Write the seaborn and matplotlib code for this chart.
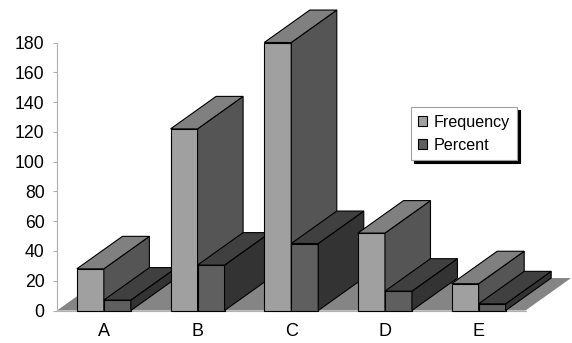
import matplotlib
matplotlib.use("Agg")
import matplotlib.pyplot as plt
from matplotlib.patches import Polygon, Patch
from matplotlib.colors import to_hex
import pandas as pd
import seaborn as sns

# Data
categories = ["A", "B", "C", "D", "E"]
frequency = [28, 122, 180, 52, 18]
percent = [7.0, 30.5, 45.0, 13.0, 4.5]
series_names = ["Frequency", "Percent"]
y_ticks = [0, 20, 40, 60, 80, 100, 120, 140, 160, 180]

# Face shades for the extruded columns
front_colors = {"Frequency": "#a0a0a0", "Percent": "#5f5f5f"}
top_colors = {"Frequency": "#808080", "Percent": "#404040"}
side_colors = {"Frequency": "#555555", "Percent": "#333333"}

plt.rcParams["font.family"] = ["Liberation Sans", "DejaVu Sans"]

df = pd.DataFrame({
    "category": categories * 2,
    "series": [series_names[0]] * len(categories) + [series_names[1]] * len(categories),
    "value": frequency + percent,
})

W, H = 572, 343
fig = plt.figure(figsize=(W / 100, H / 100), dpi=100)
ax = fig.add_axes([57 / W, 32.5 / H, 468.5 / W, 268 / H])

sns.barplot(data=df, x="category", y="value", hue="series",
            order=categories, hue_order=series_names, palette=front_colors,
            width=0.576, edgecolor="black", linewidth=0.8, saturation=1,
            legend=False, ax=ax)

ax.set_xlim(-0.5, 4.5)
ax.set_ylim(0, 180)

# Oblique depth offset (data units)
dx, dy = 0.486, 21.8

# Floor
floor = Polygon([(-0.5, 0), (4.5, 0), (4.5 + dx, dy), (-0.5 + dx, dy)],
                closed=True, facecolor="#858585", edgecolor="none",
                zorder=1, clip_on=False)
ax.add_patch(floor)

# Extrude every bar: side and top faces, painted left to right
front_to_series = {to_hex(c): s for s, c in front_colors.items()}
bars = sorted([p for p in ax.patches if p is not floor], key=lambda p: p.get_x())
for k, p in enumerate(bars):
    s = front_to_series.get(to_hex(p.get_facecolor()[:3]), "Frequency")
    x0 = p.get_x()
    x1 = x0 + p.get_width()
    h = p.get_height()
    base = 3 + 3 * k
    p.set_zorder(base)
    p.set_clip_on(False)
    side = Polygon([(x1, 0), (x1 + dx, dy), (x1 + dx, h + dy), (x1, h)],
                   closed=True, facecolor=side_colors[s], edgecolor="black",
                   linewidth=0.8, zorder=base + 1, clip_on=False)
    top = Polygon([(x0, h), (x1, h), (x1 + dx, h + dy), (x0 + dx, h + dy)],
                  closed=True, facecolor=top_colors[s], edgecolor="black",
                  linewidth=0.8, zorder=base + 2, clip_on=False)
    ax.add_patch(side)
    ax.add_patch(top)

# Axes styling
ax.set_xlabel("")
ax.set_ylabel("")
ax.set_yticks(y_ticks)
ax.set_yticklabels([str(t) for t in y_ticks])
for sp in ["top", "right"]:
    ax.spines[sp].set_visible(False)
ax.spines["left"].set_color("#b0b0b0")
ax.spines["left"].set_linewidth(0.8)
ax.spines["bottom"].set_color("#b0b0b0")
ax.spines["bottom"].set_linewidth(0.8)
ax.tick_params(axis="y", length=3, width=0.8, color="#b0b0b0", pad=6,
               labelsize=12.7, labelcolor="black")
ax.tick_params(axis="x", length=0, pad=9, labelsize=13, labelcolor="black")
ax.patch.set_visible(False)

# Legend with a solid drop shadow
handles = [Patch(facecolor=front_colors[s], edgecolor="black", linewidth=0.8, label=s)
           for s in series_names]
leg = fig.legend(handles=handles, loc="upper left",
                 bbox_to_anchor=(410.7 / W, 1 - 107.3 / H),
                 bbox_transform=fig.transFigure, frameon=True, fancybox=False,
                 shadow={"ox": 2.2, "oy": -2.2, "color": "black", "alpha": 1},
                 edgecolor="#a0a0a0", framealpha=1, fontsize=11.6,
                 handlelength=0.55, handleheight=0.55, handletextpad=0.4,
                 labelspacing=0.5, borderpad=0.45, borderaxespad=0)
leg.get_frame().set_linewidth(0.8)

fig.savefig("out.png", dpi=100)
